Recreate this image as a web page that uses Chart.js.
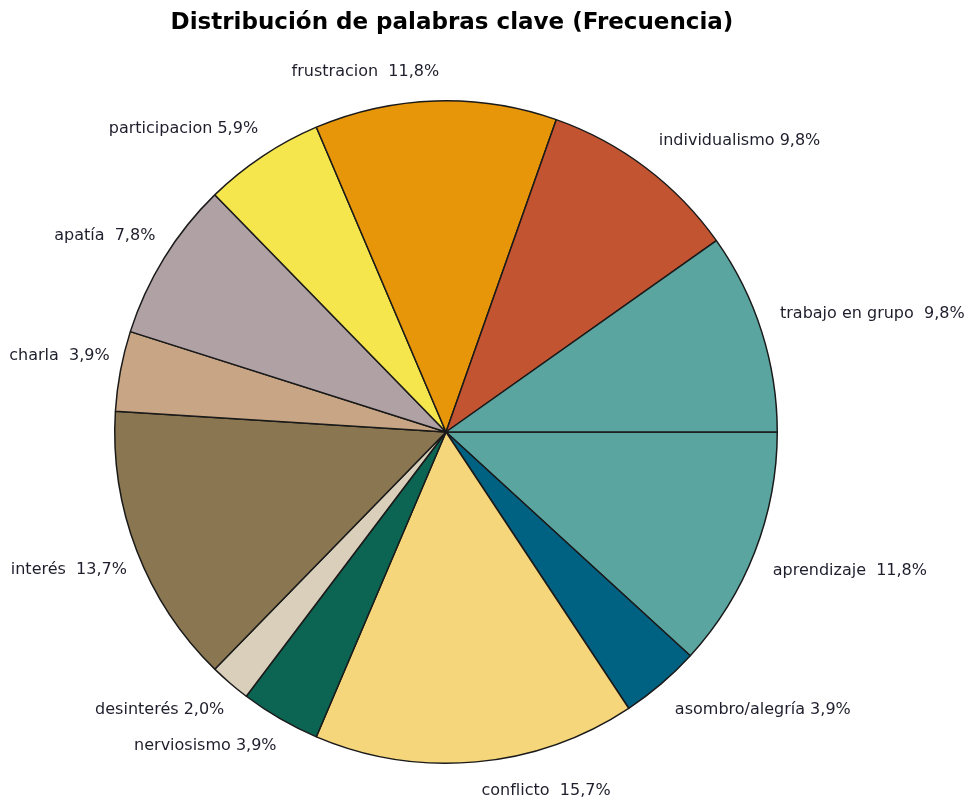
<!DOCTYPE html>
<html lang="es">
<head>
<meta charset="utf-8">
<title>Distribución de palabras clave</title>
<script src="https://cdn.jsdelivr.net/npm/chart.js@4/dist/chart.umd.min.js"></script>
<style>
  html, body { margin: 0; padding: 0; background: #ffffff; }
  #wrap { width: 969px; height: 800px; position: relative; }
</style>
</head>
<body>
<div id="wrap"><canvas id="chart" width="969" height="800"></canvas></div>
<script>
// Palabras clave y su frecuencia relativa (%)
const categories = [
  'aprendizaje', 'asombro/alegría', 'conflicto', 'nerviosismo', 'desinterés',
  'interés', 'charla', 'apatía', 'participacion', 'frustracion',
  'individualismo', 'trabajo en grupo'
];
const percentages = [11.8, 3.9, 15.7, 3.9, 2.0, 13.7, 3.9, 7.8, 5.9, 11.8, 9.8, 9.8];
const labelTexts = [
  'aprendizaje  11,8%', 'asombro/alegría 3,9%', 'conflicto  15,7%', 'nerviosismo 3,9%',
  'desinterés 2,0%', 'interés  13,7%', 'charla  3,9%', 'apatía  7,8%',
  'participacion 5,9%', 'frustracion  11,8%', 'individualismo 9,8%', 'trabajo en grupo  9,8%'
];
const sliceColors = [
  '#5ba5a0', '#006283', '#f5d67b', '#0c6552', '#dacfba',
  '#8a7751', '#c8a685', '#b0a1a5', '#f5e64d', '#e79609',
  '#c25431', '#5ba5a0'
];

const chartTitle = 'Distribución de palabras clave (Frecuencia)';

// Título centrado sobre el gráfico
const titlePlugin = {
  id: 'titleText',
  afterDraw(chart) {
    const ctx = chart.ctx;
    ctx.save();
    ctx.font = 'bold 23px "DejaVu Sans", Verdana, sans-serif';
    ctx.fillStyle = '#000000';
    ctx.textAlign = 'center';
    ctx.textBaseline = 'middle';
    ctx.fillText(chartTitle, 452, 23);
    ctx.restore();
  }
};

// Etiquetas exteriores junto a cada sector
const outerLabels = {
  id: 'outerLabels',
  afterDatasetsDraw(chart) {
    const ctx = chart.ctx;
    const meta = chart.getDatasetMeta(0);
    ctx.save();
    ctx.font = '16px "DejaVu Sans", Verdana, sans-serif';
    ctx.fillStyle = '#1e1e2c';
    ctx.textBaseline = 'middle';
    meta.data.forEach((arc, i) => {
      const p = arc.getProps(['x', 'y', 'startAngle', 'endAngle', 'outerRadius'], true);
      const mid = (p.startAngle + p.endAngle) / 2;
      const r = p.outerRadius + 29;
      const c = Math.cos(mid), s = Math.sin(mid);
      const x = p.x + r * c + 4 - Math.sign(c) * 14 * Math.abs(c);
      const y = p.y + r * s + Math.sign(s) * 10 * c * c;
      ctx.textAlign = c < 0 ? 'right' : 'left';
      ctx.fillText(labelTexts[i], x, y);
    });
    ctx.restore();
  }
};

new Chart(document.getElementById('chart'), {
  type: 'pie',
  data: {
    labels: categories,
    datasets: [{
      data: percentages,
      backgroundColor: sliceColors,
      borderColor: '#1a1a1a',
      borderWidth: 1.5
    }]
  },
  options: {
    responsive: false,
    animation: false,
    rotation: 90,
    layout: { padding: { left: 114, right: 191, top: 100, bottom: 36 } },
    plugins: {
      legend: { display: false },
      tooltip: { enabled: false },
      title: { display: false }
    }
  },
  plugins: [outerLabels, titlePlugin]
});
</script>
</body>
</html>
